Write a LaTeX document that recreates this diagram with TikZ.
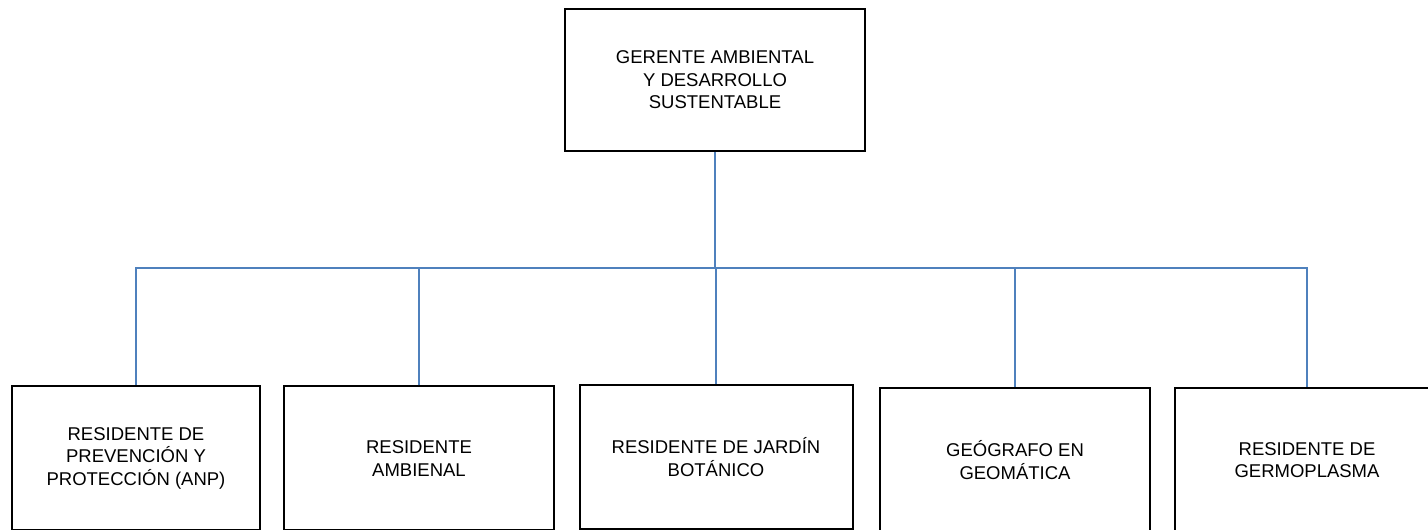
\documentclass[tikz,border=0pt]{standalone}
\usepackage{fontspec}
\setmainfont{Liberation Sans}
\usepackage{xcolor}
\usetikzlibrary{arrows,positioning}
\definecolor{linkblue}{RGB}{79,129,189}

\begin{document}
\begin{tikzpicture}[x=1pt,y=1pt,
  box/.style={draw=black,line width=2pt,anchor=north,align=center,inner sep=4pt,
    minimum height=144pt,font=\fontsize{18.5}{22.5}\selectfont},
  link/.style={-,line width=1.8pt,color=linkblue}]
\clip (0,0) rectangle (1428,530);
\node[box,minimum width=300pt,minimum height=142pt] (G) at (715,522) {GERENTE AMBIENTAL\\Y DESARROLLO\\SUSTENTABLE};
\node[box,minimum width=248pt] (R1) at (136,145) {RESIDENTE DE\\PREVENCIÓN Y\\PROTECCIÓN (ANP)};
\node[box,minimum width=270pt] (R2) at (419,144.5) {RESIDENTE\\AMBIENAL};
\node[box,minimum width=273pt] (R3) at (716,146) {RESIDENTE DE JARDÍN\\BOTÁNICO};
\node[box,minimum width=270pt] (R4) at (1015,143) {GEÓGRAFO EN\\GEOMÁTICA};
\node[box,minimum width=264pt] (R5) at (1307,143) {RESIDENTE DE\\GERMOPLASMA};
\coordinate (B) at (715,262);
\draw[link] (G.south)--(B);
\draw[link] (R1.north) |- (B) -| (R5.north);
\foreach \n in {R2,R3,R4}
  \draw[link] (\n.north)--(\n.north |- B);
\end{tikzpicture}
\end{document}
